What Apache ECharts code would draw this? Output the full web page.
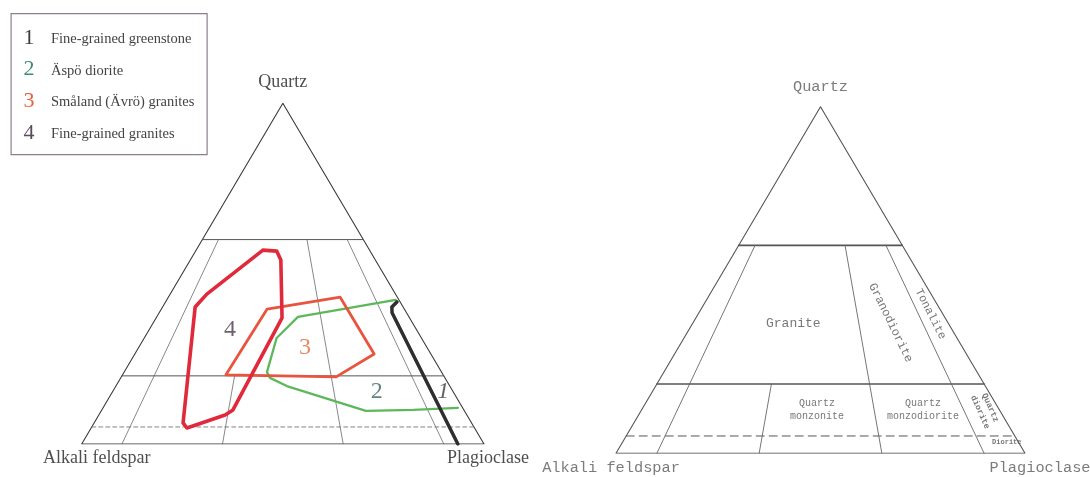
<!DOCTYPE html>
<html>
<head>
<meta charset="utf-8">
<script src="https://cdn.jsdelivr.net/npm/echarts@6/dist/echarts.min.js"></script>
<style>
html,body{margin:0;padding:0;background:#fff;}
#chart{width:1090px;height:477px;}
</style>
</head>
<body>
<div id="chart"></div>
<script>
// ---------- data (ternary points are [Quartz, Alkali feldspar, Plagioclase] %) ----------
const vertexNames = ['Quartz', 'Alkali feldspar', 'Plagioclase'];
const zoneQ = [60, 20];                 // solid horizontal field boundaries (Q %)
const dashQ = 5;                        // dashed boundary (Q %)
const upperRatios = [10, 65, 90];       // P/(A+P) % boundaries, Q 20-60
const lowerRatios = [10, 35, 65, 90];   // P/(A+P) % boundaries, Q 0-20

const legendNums = ['1', '2', '3', '4'];
const legendLabels = ['Fine-grained greenstone', 'Äspö diorite', 'Småland (Ävrö) granites', 'Fine-grained granites'];

const fineGrainedGreenstone = [[41.7,0.8,57.5],[40.2,2.8,57.0],[38.5,3.6,57.9],[0,6.5,93.5]];
const aspoDiorite = [[42.3,0.8,56.9],[37.3,27.6,35.1],[31.1,36.0,32.9],[21.1,43.4,35.5],[19.4,43.5,37.1],[17.0,40.5,42.5],[9.7,24.5,65.8],[10.0,12.6,77.4],[10.6,1.2,88.2]];
const smalandGranites = [[20.3,54.0,25.7],[39.6,34.1,26.3],[43.1,14.2,42.7],[26.4,14.1,59.5],[19.7,26.9,53.4]];
const fineGrainedGranites = [[56.9,26.5,16.6],[56.6,23.2,20.2],[54.0,23.5,22.5],[37.0,31.7,31.3],[10.0,57.4,32.6],[8.5,60.1,31.4],[4.7,71.5,23.8],[6.2,71.7,22.1],[40.2,51.7,8.1],[44.0,46.9,9.1]];

const fieldNumbers = ['1', '2', '3', '4'];
const fieldNumberPos = [[15.3,2.5,82.2],[15.3,19.0,65.7],[28.2,30.4,41.4],[33.5,46.4,20.1]];

const rockNames = ['Granite', 'Granodiorite', 'Tonalite', 'Quartz\nmonzonite', 'Quartz\nmonzodiorite', 'Quartz\ndiorite', 'Diorite'];
const rockNamePos = [[37.3,38.0,24.7],[37.7,14.0,48.3],[40.2,3.0,56.8],[12.5,44.6,42.9],[12.5,18.7,68.8],[12.5,3.5,84.0],[3.1,2.9,94.0]];

// ---------- helpers ----------
function xy(p) { return [p[2] + p[0] / 2, p[0]]; }
function ratioPt(q, r) { const p = (100 - q) * r / 100; return [q, 100 - q - p, p]; }

const series = [];
function addLine(gi, pts, style, closed) {
  const d = pts.map(xy);
  if (closed) d.push(d[0]);
  series.push({
    type: 'line', xAxisIndex: gi, yAxisIndex: gi, data: d, symbol: 'none',
    silent: true, animation: false, z: style.z || 2,
    lineStyle: Object.assign({ join: 'round', cap: 'round' }, style)
  });
}

function addFrame(gi, outline, inner, dashed, qStyle) {
  addLine(gi, [[100,0,0],[0,100,0],[0,0,100]], outline, true);
  zoneQ.forEach(q => addLine(gi, [[q,100-q,0],[q,0,100-q]], qStyle));
  addLine(gi, [[dashQ,100-dashQ,0],[dashQ,0,100-dashQ]], dashed);
  upperRatios.forEach(r => addLine(gi, [ratioPt(zoneQ[0], r), ratioPt(zoneQ[1], r)], inner));
  lowerRatios.forEach(r => addLine(gi, [ratioPt(zoneQ[1], r), ratioPt(0, r)], inner));
}

// left diagram frame
addFrame(0,
  { color: '#3a3a3a', width: 1.1 },
  { color: '#6a6a6a', width: 0.8 },
  { color: '#777', width: 0.9, type: [4, 3] },
  { color: '#555', width: 1 });
// right diagram frame
addFrame(1,
  { color: '#555', width: 1.1 },
  { color: '#666', width: 0.9 },
  { color: '#555', width: 1, type: [8, 5] },
  { color: '#555', width: 1.6 });

// fields on left diagram
addLine(0, aspoDiorite, { color: '#5cb85a', width: 2.3, z: 3 });
addLine(0, smalandGranites, { color: '#e8553f', width: 2.8, z: 4 }, true);
addLine(0, fineGrainedGranites, { color: '#e02a3c', width: 3.6, z: 5 }, true);
addLine(0, fineGrainedGreenstone, { color: '#2e2e2e', width: 3.5, z: 6 });

// field numbers
const numColors = ['#3d3d3d', '#3d6464', '#e26a3e', '#4a3a4a'];
series.push({
  type: 'scatter', xAxisIndex: 0, yAxisIndex: 0, symbolSize: 0, silent: true, animation: false, z: 10,
  data: fieldNumbers.map((n, i) => ({
    value: xy(fieldNumberPos[i]), name: n,
    label: { show: true, position: 'inside', formatter: n, color: numColors[i],
      fontFamily: 'Liberation Serif', fontSize: 24, fontStyle: n === '1' ? 'italic' : 'normal' }
  }))
});

// rock names on right diagram
const rockStyle = [
  { size: 13, rot: 0 }, { size: 12, rot: -64 }, { size: 11.5, rot: -63 },
  { size: 10, rot: 0 }, { size: 10, rot: 0 }, { size: 8.5, rot: -66 }, { size: 7, rot: 0 }
];
series.push({
  type: 'scatter', xAxisIndex: 1, yAxisIndex: 1, symbolSize: 0, silent: true, animation: false, z: 10,
  data: rockNames.map((n, i) => ({
    value: xy(rockNamePos[i]), name: n,
    label: { show: true, position: 'inside', formatter: n, color: '#555',
      fontFamily: 'Liberation Mono', fontSize: rockStyle[i].size, rotate: rockStyle[i].rot,
      lineHeight: rockStyle[i].size * 1.3, fontWeight: i >= 5 ? 'bold' : 'normal' }
  }))
});

// vertex names
const corners = [[100,0,0],[0,100,0],[0,0,100]];
const leftOff = [[0,-21],[15,14],[-37,14]];
const rightOff = [[0,-20],[-5,15],[15,15]];
[0, 1].forEach(gi => {
  series.push({
    type: 'scatter', xAxisIndex: gi, yAxisIndex: gi, symbolSize: 0, silent: true, animation: false, z: 10,
    data: vertexNames.map((n, i) => ({
      value: xy(corners[i]), name: n,
      label: { show: true, position: 'inside', formatter: n,
        offset: gi === 0 ? leftOff[i] : rightOff[i],
        align: gi === 0 && i === 2 ? 'left' : 'center',
        color: gi === 0 ? '#222' : '#5a5a5a',
        fontFamily: gi === 0 ? 'Liberation Serif' : 'Liberation Mono',
        fontSize: gi === 0 ? 18 : 15.3 }
    }))
  });
});

// legend (graphic)
const legendColors = ['#3d3d3d', '#3f8c6c', '#e8603c', '#5a4a5a'];
const graphic = [{
  type: 'rect', left: 10.5, top: 13, shape: { width: 196, height: 141 },
  style: { fill: '#fff', stroke: '#8c7f8c', lineWidth: 1.2 }, silent: true
}];
legendNums.forEach((n, i) => {
  graphic.push({ type: 'text', x: 29, y: 38 + i * 31.7, silent: true,
    style: { text: n, fill: legendColors[i], font: '22px "Liberation Serif"', align: 'center', verticalAlign: 'middle' } });
  graphic.push({ type: 'text', x: 51, y: 39 + i * 31.7, silent: true,
    style: { text: legendLabels[i], fill: '#444', font: '14.5px "Liberation Serif"', align: 'left', verticalAlign: 'middle' } });
});

const chart = echarts.init(document.getElementById('chart'), null, { renderer: 'canvas' });
chart.setOption({
  animation: false,
  backgroundColor: '#fff',
  grid: [
    { left: 81.7, top: 103.3, width: 402.3, height: 340.7 },
    { left: 616, top: 106.7, width: 409, height: 346.6 }
  ],
  xAxis: [
    { gridIndex: 0, type: 'value', min: 0, max: 100, show: false },
    { gridIndex: 1, type: 'value', min: 0, max: 100, show: false }
  ],
  yAxis: [
    { gridIndex: 0, type: 'value', min: 0, max: 100, show: false },
    { gridIndex: 1, type: 'value', min: 0, max: 100, show: false }
  ],
  graphic: graphic,
  series: series
});
</script>
</body>
</html>
